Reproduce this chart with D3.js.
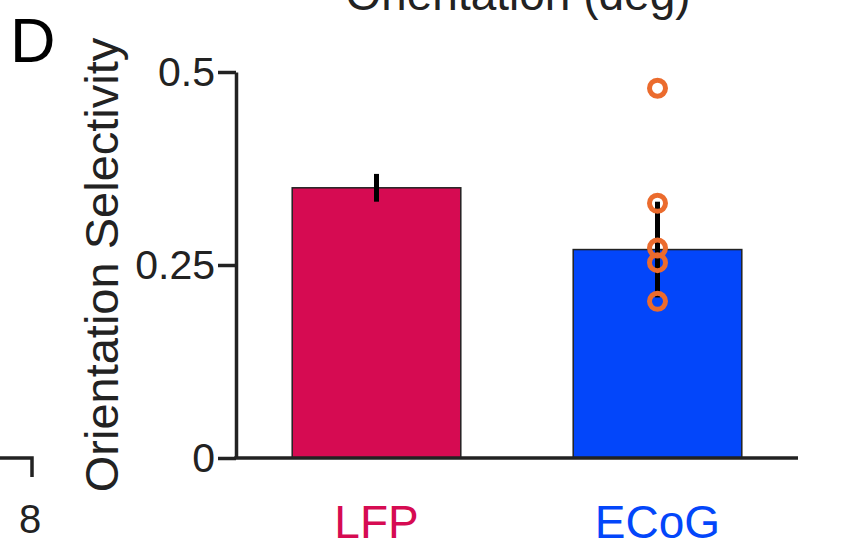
<!DOCTYPE html>
<html>
<head>
<meta charset="utf-8">
<script src="https://cdn.jsdelivr.net/npm/d3@7"></script>
<style>
  html, body { margin: 0; padding: 0; background: #fff; }
  svg { display: block; font-family: "Liberation Sans", Arial, sans-serif; }
</style>
</head>
<body>
<div id="chart"></div>
<script>
// data
const categories = ["LFP", "ECoG"];
const meanValues = [0.35, 0.27];
const errValues = [0.018, 0.062];
const ecogPoints = [0.479, 0.330, 0.272, 0.253, 0.203];
const yTicks = [0, 0.25, 0.5];
const yTickLabels = ["0", "0.25", "0.5"];

const barColors = ["#D60B52", "#0346FA"];
const dotColor = "#EB6B2D";
const ink = "#222";

const width = 841, height = 542;
const x0 = 236, x1 = 798;   // axis extent
const yBottom = 458, yTop = 72;

const svg = d3.select("#chart").append("svg")
  .attr("width", width)
  .attr("height", height);

// scales
const x = d3.scaleBand()
  .domain(categories)
  .range([x0, x1])
  .paddingInner(0.4)
  .paddingOuter(0.2);

const y = d3.scaleLinear()
  .domain([0, 0.5])
  .range([yBottom, yTop]);

// top cut-off title from the panel above
svg.append("text")
  .attr("x", 518)
  .attr("y", 10)
  .attr("text-anchor", "middle")
  .style("font-size", "46px")
  .style("fill", ink)
  .text("Orientation (deg)");

// panel letter
svg.append("text")
  .attr("x", 10)
  .attr("y", 62)
  .style("font-size", "63px")
  .style("fill", "#000")
  .text("D");

// fragment of neighbouring panel's axis, bottom left
svg.append("path")
  .attr("d", `M0,${yBottom}H32V477`)
  .attr("fill", "none")
  .attr("stroke", ink)
  .attr("stroke-width", 3.5);
svg.append("text")
  .attr("x", 30)
  .attr("y", 533)
  .attr("text-anchor", "middle")
  .style("font-size", "40px")
  .style("fill", ink)
  .text("8");

// bars
const rows = categories.map((c, i) => ({ cat: c, mean: meanValues[i], err: errValues[i], color: barColors[i] }));

svg.selectAll(".bar")
  .data(rows)
  .enter()
  .append("rect")
  .attr("class", "bar")
  .attr("x", d => x(d.cat))
  .attr("y", d => y(d.mean))
  .attr("width", x.bandwidth())
  .attr("height", d => y(0) - y(d.mean))
  .attr("fill", d => d.color)
  .attr("stroke", ink)
  .attr("stroke-width", 1.5);

// error bars
svg.selectAll(".err")
  .data(rows)
  .enter()
  .append("line")
  .attr("class", "err")
  .attr("x1", d => x(d.cat) + x.bandwidth() / 2)
  .attr("x2", d => x(d.cat) + x.bandwidth() / 2)
  .attr("y1", d => y(d.mean + d.err))
  .attr("y2", d => y(d.mean - d.err))
  .attr("stroke", "#000")
  .attr("stroke-width", 5);

// individual ECoG points
svg.selectAll(".pt")
  .data(ecogPoints)
  .enter()
  .append("circle")
  .attr("class", "pt")
  .attr("cx", x("ECoG") + x.bandwidth() / 2)
  .attr("cy", d => y(d))
  .attr("r", 8)
  .attr("fill", "none")
  .attr("stroke", dotColor)
  .attr("stroke-width", 5);

// y axis
const yAxis = svg.append("g")
  .attr("transform", `translate(${x0},0)`)
  .call(d3.axisLeft(y).tickValues(yTicks).tickFormat((d, i) => yTickLabels[i]).tickSize(18).tickSizeOuter(0).tickPadding(3));
yAxis.select(".domain").attr("stroke", ink).attr("stroke-width", 3.5);
yAxis.selectAll(".tick line").attr("stroke", ink).attr("stroke-width", 3.5);
yAxis.selectAll(".tick text")
  .style("font-size", "41px")
  .style("font-family", "'Liberation Sans', Arial, sans-serif")
  .attr("fill", ink);

// x axis line
svg.append("line")
  .attr("x1", x0 - 1.75)
  .attr("x2", x1)
  .attr("y1", yBottom)
  .attr("y2", yBottom)
  .attr("stroke", ink)
  .attr("stroke-width", 3.5);

// category labels
svg.selectAll(".cat")
  .data(rows)
  .enter()
  .append("text")
  .attr("class", "cat")
  .attr("x", d => x(d.cat) + x.bandwidth() / 2)
  .attr("y", 538)
  .attr("text-anchor", "middle")
  .style("font-size", "46px")
  .style("fill", d => d.color)
  .text(d => d.cat);

// y title
svg.append("text")
  .attr("transform", `translate(118,${(yTop + yBottom) / 2}) rotate(-90)`)
  .attr("text-anchor", "middle")
  .style("font-size", "47px")
  .style("fill", ink)
  .text("Orientation Selectivity");
</script>
</body>
</html>
